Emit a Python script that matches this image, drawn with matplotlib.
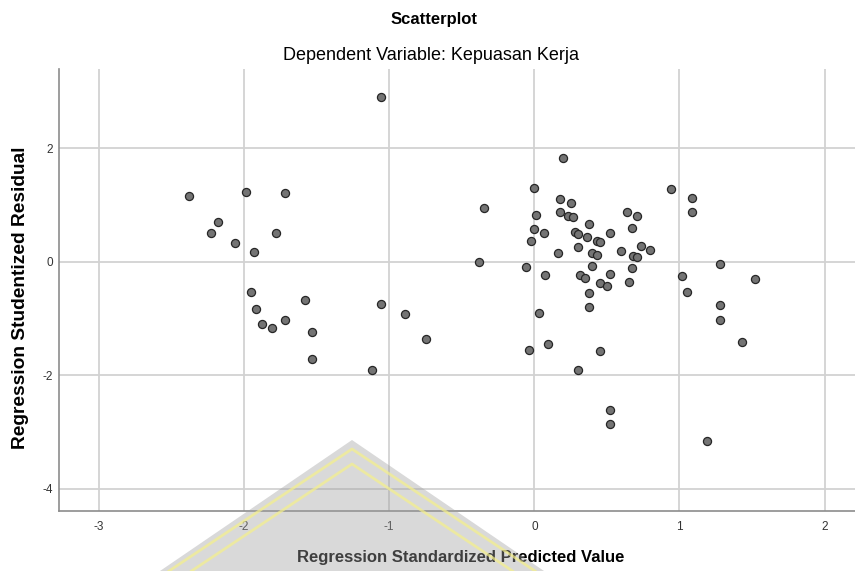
import matplotlib
matplotlib.use('Agg')
import matplotlib.pyplot as plt
from matplotlib.patches import Polygon
from matplotlib.lines import Line2D

plt.rcParams['font.family'] = ['Liberation Sans', 'DejaVu Sans']
plt.rcParams['axes.unicode_minus'] = False

# Regression standardized predicted value (x) and studentized residual (y)
pred = [-1.055, -2.38, -1.99, -1.72, -2.18, -2.23, -1.78, -2.06, -1.93, -0.38,
        -1.95, -1.92, -1.58, -1.06, -1.88, -1.81, -1.715, -1.53, -0.894, -0.747,
        -1.53, -1.12, -0.35,
        0.195, 0.0, 0.94, 1.09, 1.09, 0.18, 0.25, 0.01, 0.18, 0.23,
        0.265, 0.64, 0.705, 0.38, 0.0, 0.07, 0.28, 0.30, 0.52, 0.67,
        -0.02, 0.365, 0.43, 0.45, 0.30, 0.735, 0.80, 0.165, 0.40, 0.43,
        0.60, 0.68, 0.71, -0.06, 0.40, 0.67, 1.28, 0.076, 0.315, 0.35,
        0.52, 1.02, 0.45, 0.50, 0.65, 1.05, 0.38, 0.38, 1.28, 0.03,
        1.28, 0.097, -0.037, 0.45, 1.43, 0.30, 0.52, 0.52, 1.19, 1.524]
resid = [2.90, 1.16, 1.23, 1.20, 0.69, 0.50, 0.51, 0.32, 0.17, 0.0,
         -0.54, -0.83, -0.68, -0.74, -1.10, -1.17, -1.03, -1.23, -0.92, -1.37,
         -1.71, -1.90, 0.95,
         1.82, 1.29, 1.28, 1.12, 0.88, 1.10, 1.03, 0.82, 0.87, 0.80,
         0.78, 0.87, 0.80, 0.66, 0.57, 0.50, 0.53, 0.49, 0.51, 0.59,
         0.36, 0.43, 0.36, 0.34, 0.26, 0.28, 0.21, 0.16, 0.15, 0.11,
         0.18, 0.105, 0.08, -0.09, -0.08, -0.12, -0.04, -0.23, -0.23, -0.28,
         -0.21, -0.25, -0.38, -0.43, -0.35, -0.53, -0.55, -0.79, -0.77, -0.90,
         -1.02, -1.45, -1.56, -1.58, -1.42, -1.91, -2.62, -2.86, -3.15, -0.30]

x_ticks = [-3, -2, -1, 0, 1, 2]
y_ticks = [-4, -2, 0, 2]

fig = plt.figure(figsize=(8.55, 5.71), dpi=100)
ax = fig.add_axes([0.069, 0.105, 0.931, 0.774])

ax.scatter(pred, resid, s=34, facecolor='#747474', edgecolor='#262626',
           linewidth=0.9, zorder=3)

ax.set_xlim(-3.276, 2.21)
ax.set_ylim(-4.39, 3.39)
ax.set_xticks(x_ticks)
ax.set_yticks(y_ticks)
ax.grid(True, color='#d2d2d2', linewidth=1.3)
ax.set_axisbelow(True)
ax.tick_params(length=0, labelsize=8.5, labelcolor='#333333')
ax.tick_params(axis='x', pad=7)
ax.tick_params(axis='y', pad=4.5)
for side in ['top', 'right']:
    ax.spines[side].set_visible(False)
for side in ['left', 'bottom']:
    ax.spines[side].set_color('#8c8c8c')
    ax.spines[side].set_linewidth(1.2)

ax.set_xlabel('Regression Standardized Predicted Value', fontsize=12,
              fontweight='bold', va='center')
ax.xaxis.set_label_coords(0.505, -0.106)
ax.set_ylabel('Regression Studentized Residual', fontsize=13.8,
              fontweight='bold', va='center')
ax.yaxis.set_label_coords(-0.048, 0.482)

fig.text(0.508, 0.965, 'Scatterplot', ha='center', va='center',
         fontsize=12, fontweight='bold')
fig.text(0.504, 0.903, 'Dependent Variable: Kepuasan Kerja', ha='center',
         va='center', fontsize=13)

# watermark logo at the bottom
def fp(x, y):
    return (x / 855, 1 - y / 571)

wm = Polygon([fp(352, 440), fp(160, 571), fp(544, 571)], closed=True,
             transform=fig.transFigure, facecolor='#a0a0a0', alpha=0.4,
             edgecolor='none', zorder=0.5)
fig.patches.append(wm)
for apex in [449, 464]:
    xs = [(352 - (571 - apex) * 1.5) / 855, 352 / 855, (352 + (571 - apex) * 1.5) / 855]
    ys = [0, 1 - apex / 571, 0]
    fig.lines.append(Line2D(xs, ys, transform=fig.transFigure,
                            color='#f5f08a', linewidth=2, alpha=0.7, zorder=0.6))

fig.savefig('out.png', dpi=100)
